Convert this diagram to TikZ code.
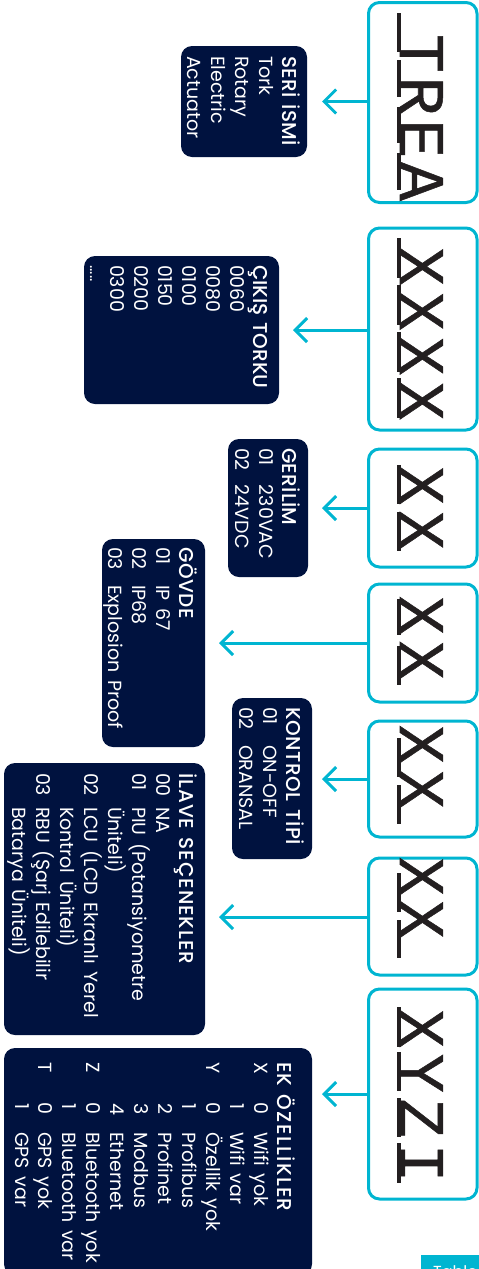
\documentclass[tikz,border=0pt]{standalone}
\usepackage{fontspec}
\usepackage{array}
\setmainfont[WordSpace=1.5]{Poppins}
\newfontfamily\ttlfam[WordSpace=1.3]{Poppins Medium}
\newfontfamily\monofam[LetterSpace=9,FakeBold=0.8]{Liberation Mono}
\usetikzlibrary{arrows.meta}
\definecolor{cyanline}{HTML}{00B5D1}
\definecolor{navy}{HTML}{00123F}
\definecolor{inkdark}{HTML}{231F20}
\tikzset{
  codebox/.style={draw=cyanline,line width=3pt,rounded corners=11pt,minimum width=108.5pt,inner sep=0pt,outer sep=0pt},
  panelbox/.style={fill=navy,draw=none,rounded corners=11pt,inner sep=0pt,outer sep=0pt},
  link/.style={draw=cyanline,line width=3pt,-{Straight Barb[length=12pt,width=24pt,line width=3pt]}},
  paneltext/.style={rotate=-90,anchor=north west,inner sep=0pt,outer sep=0pt,text=white,font=\fontsize{19}{23.9}\selectfont},
  bigcode/.style={rotate=-90,anchor=base west,inner sep=0pt,outer sep=0pt,text=inkdark,font=\monofam\fontsize{65}{65}\selectfont},
  underbar/.style={draw=inkdark,line width=3.5pt},
}
\newcommand{\sm}[1]{\smash{#1}}
\newcommand{\ttl}[2][0]{\smash{\ttlfam\addfontfeature{LetterSpace=#1}\fontsize{20}{23.9}\selectfont #2}}
\begin{document}
\begin{tikzpicture}[x=1pt,y=-1pt]
\useasboundingbox (0,0) rectangle (479,1269);
\begin{scope}
\clip (0,0) rectangle (479,1269);
% code boxes
\node[codebox,minimum height=200pt] (bA) at (422.75,102.5) {};
\node[codebox,minimum height=202pt] (bB) at (422.75,329) {};
\node[codebox,minimum height=118pt] (bC) at (422.75,508) {};
\node[codebox,minimum height=118pt] (bD) at (422.75,643) {};
\node[codebox,minimum height=116pt] (bE) at (422.75,779) {};
\node[codebox,minimum height=117pt] (bF) at (422.75,916.5) {};
\node[codebox,minimum height=210pt] (bG) at (422.75,1094) {};
% code letters
\node[bigcode] (cA) at (400,34) {\addfontfeature{LetterSpace=5.6}TREA};
\node[bigcode] (cB) at (400,247) {XXXX};
\node[bigcode] (cC) at (400,466) {XX};
\node[bigcode] (cD) at (400,596) {XX};
\node[bigcode] (cE) at (400,725) {XX};
\node[bigcode] (cF) at (400,857) {\addfontfeature{LetterSpace=6}XX};
\node[bigcode] (cG) at (400,1009) {XYZI};
% underscores
\foreach \a/\b in {13/52,60/97,107/143,153/190,238/278,285/325,332/372,378/418,465/504,512/551,599/635,646/685,738/777,785/824,873/912,920/958,1007/1047,1052/1091,1098/1137,1143/1183}
  \draw[underbar] (399,\a) -- (399,\b);
% panels
\node[panelbox,minimum width=126pt,minimum height=111pt] (pA) at (244,101.5) {};
\node[panelbox,minimum width=195pt,minimum height=148pt] (pB) at (181.5,330) {};
\node[panelbox,minimum width=80pt,minimum height=138pt] (pC) at (268,508) {};
\node[panelbox,minimum width=103pt,minimum height=208pt] (pD) at (153.5,643) {};
\node[panelbox,minimum width=80pt,minimum height=161pt] (pE) at (272,778.5) {};
\node[panelbox,minimum width=201pt,minimum height=272pt] (pF) at (104.5,899) {};
\node[panelbox,minimum width=308pt,minimum height=227pt] (pG) at (158,1161.5) {};
% arrow ends
\coordinate (tA) at (322,101.5);
\coordinate (tB) at (293,330);
\coordinate (tC) at (322,508);
\coordinate (tD) at (219,643);
\coordinate (tE) at (322,779);
\coordinate (tF) at (219,917);
\coordinate (tG) at (322,1094);
\foreach \n in {A,B,C,D,E,F,G}
  \draw[link] (t\n -| b\n.west) -- (t\n);
% panel text
\node[paneltext] (xA) at (299.7,56) {\begin{tabular}{@{}l@{}}
\ttl[1.7]{SERİ İSMİ}\\ Tork\\ Rotary\\ Electric\\ Actuator\end{tabular}};
\node[paneltext] (xB) at (270.7,265) {\begin{tabular}{@{}l@{}}
\ttl{ÇIKIŞ TORKU}\\ 0060\\ 0080\\ 0100\\ 0150\\ 0200\\ 0300\\ \raisebox{4pt}{\fontsize{16}{14}\selectfont .....}\end{tabular}};
\node[paneltext] (xC) at (299.7,448) {\begin{tabular}{@{}p{37pt}@{}l@{}}
\multicolumn{2}{@{}l@{}}{\ttl[1.5]{GERİLİM}}\\ 01&230VAC\\ 02&24VDC\end{tabular}};
\node[paneltext] (xD) at (196.7,547) {\begin{tabular}{@{}p{38pt}@{}l@{}}
\multicolumn{2}{@{}l@{}}{\ttl[3]{GÖVDE}}\\ 01&IP 67\\ 02&IP68\\ 03&Explosion Proof\end{tabular}};
\node[paneltext] (xE) at (303.7,707) {\begin{tabular}{@{}p{38pt}@{}l@{}}
\multicolumn{2}{@{}l@{}}{\ttl[3]{KONTROL TİPİ}}\\ 01&ON-OFF\\ 02&ORANSAL\end{tabular}};
\node[paneltext] (xF) at (196.7,773) {\begin{tabular}{@{}p{34pt}@{}l@{}}
\multicolumn{2}{@{}l@{}}{\ttl[5]{İLAVE SEÇENEKLER}}\\ 00&NA\\ 01&\sm{PIU (Potansiyometre}\\ &\sm{Üniteli)}\\ 02&\sm{LCU (LCD Ekranlı Yerel}\\ &\sm{Kontrol Üniteli)}\\ 03&\sm{RBU (Şarj Edilebilir}\\ &\sm{Batarya Üniteli)}\end{tabular}};
\node[paneltext] (xG) at (294.7,1062) {\begin{tabular}{@{}p{41pt}@{}p{29pt}@{}l@{}}
\multicolumn{3}{@{}l@{}}{\ttl[6.5]{EK ÖZELLİKLER}}\\
X&0&Wifi yok\\ &1&Wifi var\\ Y&0&\sm{Özellik yok}\\ &1&\sm{Profibus}\\ &2&\sm{Profinet}\\ &3&Modbus\\ &4&Ethernet\\ Z&0&\sm{Bluetooth yok}\\ &1&Bluetooth var\\ T&0&\sm{GPS yok}\\ &1&GPS var\end{tabular}};
% table tab
\node[fill=cyanline,minimum width=58pt,minimum height=14pt,inner sep=0pt,outer sep=0pt] (tab) at (450,1262) {};
\node[anchor=base west,inner sep=0pt,text=white,font=\fontsize{16}{20}\selectfont] (tabtext) at (433,1277) {Table};
\end{scope}
\end{tikzpicture}
\end{document}
